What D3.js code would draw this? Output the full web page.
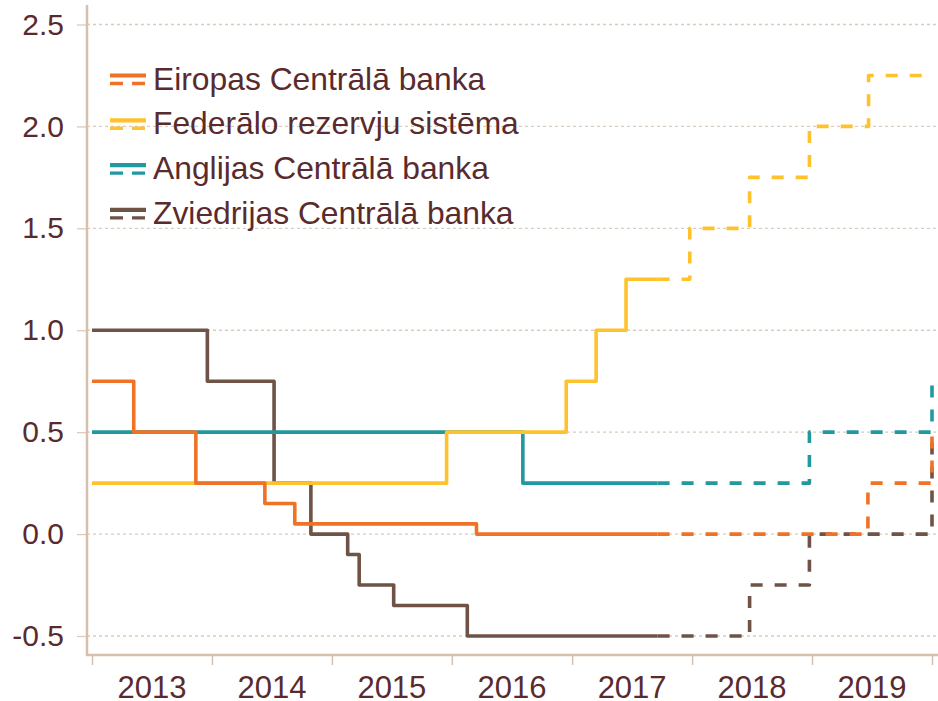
<!DOCTYPE html>
<html>
<head>
<meta charset="utf-8">
<script src="https://cdn.jsdelivr.net/npm/d3@7"></script>
<style>
  html, body { margin: 0; padding: 0; background: #ffffff; }
  svg { display: block; }
  text { font-family: "Liberation Sans", Arial, sans-serif; fill: #5a2b2c; }
</style>
</head>
<body>
<svg id="chart" width="938" height="701"></svg>
<script>
// ---- Data ----
const seriesNames = ["Eiropas Centrālā banka", "Federālo rezervju sistēma", "Anglijas Centrālā banka", "Zviedrijas Centrālā banka"];

const ecbDates = ["2013-01-01","2013-05-08","2013-11-13","2014-06-11","2014-09-10","2016-03-16","2019-06-20","2020-01-01"];
const ecbRates = [0.75, 0.50, 0.25, 0.15, 0.05, 0.00, 0.25, 0.50];

const fedDates = ["2013-01-01","2015-12-16","2016-12-14","2017-03-15","2017-06-14","2017-12-25","2018-06-25","2018-12-24","2019-06-22","2020-01-01"];
const fedRates = [0.25, 0.50, 0.75, 1.00, 1.25, 1.50, 1.75, 2.00, 2.25, 2.25];

const boeDates = ["2013-01-01","2016-08-04","2018-12-24","2020-01-01"];
const boeRates = [0.50, 0.25, 0.50, 0.75];

const rbDates = ["2013-01-01","2013-12-18","2014-07-09","2014-10-29","2015-02-18","2015-03-25","2015-07-08","2016-02-17","2018-06-25","2018-12-24","2020-01-01"];
const rbRates = [1.00, 0.75, 0.25, 0.00, -0.10, -0.25, -0.35, -0.50, -0.25, 0.00, 0.50];

const forecastStart = "2017-09-18";
const yTicks = [-0.5, 0.0, 0.5, 1.0, 1.5, 2.0, 2.5];
const yearLabels = ["2013","2014","2015","2016","2017","2018","2019"];

const colors = ["#f07226", "#fec22c", "#22989f", "#6e5346"];

// ---- Setup ----
const svg = d3.select("#chart");
const parse = d3.timeParse("%Y-%m-%d");

const x = d3.scaleTime()
  .domain([parse("2013-01-01"), parse("2020-01-01")])
  .range([92, 932]);
const y = d3.scaleLinear().domain([-0.5, 2.5]).range([636, 24.5]);

const axisColor = "#d5c0ad";
const gridColor = "#dccbbb";

// gridlines
svg.append("g").selectAll("line").data(yTicks).join("line")
  .attr("x1", 87).attr("x2", 938)
  .attr("y1", d => y(d)).attr("y2", d => y(d))
  .attr("stroke", gridColor).attr("stroke-width", 1.3)
  .attr("stroke-dasharray", "3,3");

// y axis
const yAxis = d3.axisLeft(y).tickValues(yTicks).tickSize(10).tickPadding(13)
  .tickFormat(d3.format(".1f"));
const gy = svg.append("g").attr("transform", "translate(87,0)").call(yAxis);
gy.select(".domain").remove();
gy.selectAll(".tick line").attr("stroke", gridColor).attr("stroke-width", 1.3);
gy.selectAll(".tick text").attr("font-size", 30).style("fill", "#5a2b2c")
  .attr("font-family", "Liberation Sans, Arial, sans-serif")
  .text(d => d < 0 ? "-" + Math.abs(d).toFixed(1) : d.toFixed(1));
svg.append("line").attr("x1", 87).attr("x2", 87).attr("y1", 5).attr("y2", 656)
  .attr("stroke", axisColor).attr("stroke-width", 2.5);

// x axis
const yearStarts = d3.range(2013, 2021).map(yr => new Date(yr, 0, 1));
const xAxis = d3.axisBottom(x).tickValues(yearStarts).tickSize(10).tickFormat("");
const gx = svg.append("g").attr("transform", "translate(0,655)").call(xAxis);
gx.select(".domain").remove();
gx.selectAll(".tick line").attr("stroke", axisColor).attr("stroke-width", 1.5);
svg.append("line").attr("x1", 86).attr("x2", 938).attr("y1", 655).attr("y2", 655)
  .attr("stroke", axisColor).attr("stroke-width", 2.5);
svg.append("g").selectAll("text").data(yearLabels).join("text")
  .attr("x", d => (x(new Date(+d, 0, 1)) + x(new Date(+d + 1, 0, 1))) / 2)
  .attr("y", 698)
  .attr("text-anchor", "middle")
  .attr("font-size", 31)
  .text(d => d);

// ---- Lines ----
const series = [
  { dates: ecbDates, rates: ecbRates },
  { dates: fedDates, rates: fedRates },
  { dates: boeDates, rates: boeRates },
  { dates: rbDates, rates: rbRates }
].map((s, i) => ({ pts: s.dates.map((d, j) => ({ date: parse(d), v: s.rates[j] })), color: colors[i], name: seriesNames[i] }));

const fStart = parse(forecastStart);
function valueAt(pts, date) {
  let v = pts[0].v;
  for (const p of pts) { if (p.date <= date) v = p.v; }
  return v;
}
function histPts(pts) {
  const out = pts.filter(p => p.date < fStart);
  out.push({ date: fStart, v: valueAt(pts, fStart) });
  return out;
}
function fcPts(pts) {
  const out = [{ date: fStart, v: valueAt(pts, fStart) }];
  return out.concat(pts.filter(p => p.date > fStart));
}

const line = d3.line().x(p => x(p.date)).y(p => y(p.v)).curve(d3.curveStepAfter);

// draw order: brown, teal, yellow, orange (bottom -> top)
const order = [3, 2, 1, 0];
const gl = svg.append("g");
order.forEach(i => {
  const s = series[i];
  gl.append("path").attr("d", line(fcPts(s.pts)))
    .attr("fill", "none").attr("stroke", s.color).attr("stroke-width", 3.6)
    .attr("stroke-dasharray", "12,12").attr("stroke-linejoin", "round");
});
order.forEach(i => {
  const s = series[i];
  gl.append("path").attr("d", line(histPts(s.pts)))
    .attr("fill", "none").attr("stroke", s.color).attr("stroke-width", 3.6)
    .attr("stroke-linejoin", "round");
});

// ---- Legend ----
const legend = svg.append("g");
const rowY = [75.5, 120.3, 165.1, 209.9];
series.forEach((s, i) => {
  const g = legend.append("g").attr("transform", `translate(0,${rowY[i]})`);
  g.append("line").attr("x1", 110).attr("x2", 146).attr("y1", 0).attr("y2", 0)
    .attr("stroke", s.color).attr("stroke-width", 4.2);
  g.append("line").attr("x1", 110).attr("x2", 146).attr("y1", 8).attr("y2", 8)
    .attr("stroke", s.color).attr("stroke-width", 3.4).attr("stroke-dasharray", "13,9");
  g.append("text").attr("x", 153).attr("y", 14).attr("font-size", 31.8).text(s.name);
});
</script>
</body>
</html>
